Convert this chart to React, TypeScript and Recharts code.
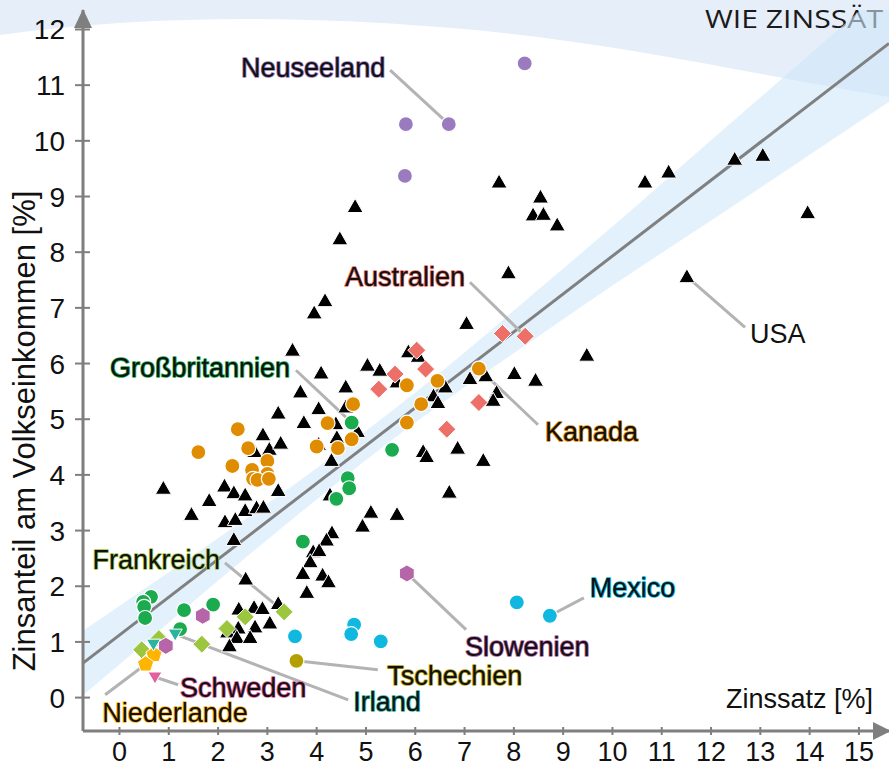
import React from "react";
import {
  ComposedChart,
  XAxis,
  YAxis,
  Scatter,
  Line,
  Area,
  ReferenceLine,
  ReferenceDot,
} from "recharts";

// tick labels
const xTicks = [0, 1, 2, 3, 4, 5, 6, 7, 8, 9, 10, 11, 12, 13, 14, 15];
const yTicks = [0, 1, 2, 3, 4, 5, 6, 7, 8, 9, 10, 11, 12];

// countries not highlighted (black triangles)
const others = [
  { x: 4.78, y: 8.82 }, { x: 4.47, y: 8.24 }, { x: 7.7, y: 9.26 }, { x: 8.54, y: 8.99 },
  { x: 8.39, y: 8.67 }, { x: 8.6, y: 8.68 }, { x: 8.88, y: 8.49 }, { x: 10.66, y: 9.26 },
  { x: 11.14, y: 9.44 }, { x: 12.48, y: 9.67 }, { x: 13.05, y: 9.74 }, { x: 13.96, y: 8.71 },
  { x: 7.89, y: 7.63 }, { x: 4.17, y: 7.13 }, { x: 3.95, y: 6.91 }, { x: 7.04, y: 6.72 },
  { x: 9.48, y: 6.15 }, { x: 3.51, y: 6.24 }, { x: 4.09, y: 5.83 }, { x: 5.03, y: 5.97 },
  { x: 5.28, y: 5.88 }, { x: 5.86, y: 6.21 }, { x: 6.06, y: 6.13 }, { x: 5.63, y: 5.67 },
  { x: 7.11, y: 5.73 }, { x: 7.43, y: 5.78 }, { x: 8.01, y: 5.82 }, { x: 8.44, y: 5.7 },
  { x: 6.61, y: 5.58 }, { x: 6.37, y: 5.42 }, { x: 6.46, y: 5.3 }, { x: 7.65, y: 5.48 },
  { x: 7.58, y: 5.34 }, { x: 4.59, y: 5.58 }, { x: 3.67, y: 5.49 }, { x: 4.04, y: 5.19 },
  { x: 4.59, y: 5.22 }, { x: 3.22, y: 5.11 }, { x: 3.74, y: 4.94 }, { x: 4.39, y: 4.92 },
  { x: 4.83, y: 4.78 }, { x: 4.41, y: 4.67 }, { x: 4.04, y: 4.55 }, { x: 2.91, y: 4.72 },
  { x: 3.04, y: 4.46 }, { x: 3.27, y: 4.57 }, { x: 2.74, y: 4.42 }, { x: 4.3, y: 4.26 },
  { x: 6.16, y: 4.42 }, { x: 6.23, y: 4.33 }, { x: 6.86, y: 4.48 }, { x: 7.38, y: 4.26 },
  { x: 6.69, y: 3.69 }, { x: 0.89, y: 3.76 }, { x: 2.13, y: 3.8 }, { x: 1.82, y: 3.54 },
  { x: 2.32, y: 3.68 }, { x: 2.55, y: 3.64 }, { x: 3.22, y: 3.72 }, { x: 4.27, y: 3.64 },
  { x: 1.46, y: 3.29 }, { x: 2.55, y: 3.36 }, { x: 2.78, y: 3.41 }, { x: 2.92, y: 3.42 },
  { x: 2.14, y: 3.16 }, { x: 2.35, y: 3.2 }, { x: 2.32, y: 2.84 }, { x: 4.93, y: 3.08 },
  { x: 5.1, y: 3.33 }, { x: 5.63, y: 3.29 }, { x: 4.31, y: 2.96 }, { x: 4.2, y: 2.83 },
  { x: 3.93, y: 2.62 }, { x: 4.05, y: 2.64 }, { x: 3.87, y: 2.44 }, { x: 3.72, y: 2.23 },
  { x: 4.12, y: 2.2 }, { x: 4.24, y: 2.08 }, { x: 3.8, y: 1.89 }, { x: 2.56, y: 2.13 },
  { x: 2.42, y: 1.59 }, { x: 2.73, y: 1.62 }, { x: 2.9, y: 1.6 }, { x: 3.22, y: 1.69 },
  { x: 3.05, y: 1.34 }, { x: 2.75, y: 1.27 }, { x: 2.41, y: 1.25 }, { x: 2.19, y: 1.18 },
  { x: 2.38, y: 1.08 }, { x: 2.65, y: 1.08 }, { x: 2.23, y: 0.93 },
];
const usa = [{ x: 11.51, y: 7.56 }];
const neuseeland = [
  { x: 5.81, y: 10.3 }, { x: 6.68, y: 10.3 }, { x: 5.79, y: 9.37 }, { x: 8.22, y: 11.39 },
];
const australien = [
  { x: 7.77, y: 6.54 }, { x: 8.23, y: 6.49 }, { x: 6.03, y: 6.24 }, { x: 6.21, y: 5.9 },
  { x: 5.59, y: 5.81 }, { x: 5.26, y: 5.54 }, { x: 7.29, y: 5.3 }, { x: 6.64, y: 4.82 },
];
const kanada = [
  { x: 2.4, y: 4.82 }, { x: 1.6, y: 4.41 }, { x: 2.61, y: 4.48 }, { x: 2.29, y: 4.16 },
  { x: 2.69, y: 4.09 }, { x: 3.0, y: 4.25 }, { x: 3.0, y: 4.02 }, { x: 2.71, y: 3.93 },
  { x: 2.8, y: 3.91 }, { x: 3.03, y: 3.93 }, { x: 4.74, y: 5.27 }, { x: 4.22, y: 4.93 },
  { x: 4.71, y: 4.64 }, { x: 4.43, y: 4.48 }, { x: 4.0, y: 4.51 }, { x: 5.83, y: 5.61 },
  { x: 6.45, y: 5.69 }, { x: 6.12, y: 5.27 }, { x: 5.83, y: 4.94 }, { x: 7.29, y: 5.91 },
];
const grossbritannien = [
  { x: 4.71, y: 4.94 }, { x: 5.53, y: 4.45 }, { x: 4.63, y: 3.94 }, { x: 4.66, y: 3.76 },
  { x: 4.4, y: 3.57 }, { x: 3.72, y: 2.8 }, { x: 1.31, y: 1.57 }, { x: 1.9, y: 1.67 },
  { x: 1.23, y: 1.23 }, { x: 0.64, y: 1.81 }, { x: 0.48, y: 1.72 }, { x: 0.5, y: 1.63 },
  { x: 0.52, y: 1.43 },
];
const frankreich = [
  { x: 3.34, y: 1.54 }, { x: 2.55, y: 1.45 }, { x: 2.18, y: 1.24 }, { x: 1.67, y: 0.96 },
  { x: 0.8, y: 1.06 }, { x: 0.45, y: 0.86 },
];
const mexico = [
  { x: 8.06, y: 1.71 }, { x: 8.73, y: 1.47 }, { x: 4.76, y: 1.31 }, { x: 4.7, y: 1.14 },
  { x: 5.3, y: 1.01 }, { x: 3.56, y: 1.1 },
];
const slowenien = [{ x: 5.83, y: 2.23 }, { x: 1.69, y: 1.47 }, { x: 0.94, y: 0.93 }];
const tschechien = [{ x: 3.59, y: 0.66 }];
const irland = [{ x: 1.13, y: 1.14 }, { x: 0.69, y: 0.96 }];
const niederlande = [{ x: 0.7, y: 0.77 }, { x: 0.53, y: 0.6 }];
const schweden = [{ x: 0.72, y: 0.37 }];

// regression line and its confidence band
const trend = [{ x: -0.74, y: 0.62 }, { x: 15.61, y: 11.75 }];
const band = [
  { x: -0.74, band: [0.04, 1.2] }, { x: 1, band: [1.35, 2.25] }, { x: 2.5, band: [2.47, 3.17] },
  { x: 4, band: [3.56, 4.12] }, { x: 5.5, band: [4.61, 5.13] }, { x: 7, band: [5.58, 6.2] },
  { x: 8.5, band: [6.49, 7.33] }, { x: 10, band: [7.4, 8.46] }, { x: 12, band: [8.57, 10.01] },
  { x: 14, band: [9.75, 11.55] }, { x: 15.61, band: [10.7, 12.8] },
];

const FONT = "'Liberation Sans', Arial, sans-serif";
const AXIS = "#7f7f7f";

// annotations: label anchor, leader start, leader end (data units)
const notes = [
  { text: "Neuseeland", color: "#9b7bbf", at: [5.39, 11.31], anchor: "end", from: [5.49, 11.27], to: [6.68, 10.3] },
  { text: "Australien", color: "#e8736b", at: [7.01, 7.55], anchor: "end", from: [7.11, 7.46], to: [8.23, 6.49] },
  { text: "Großbritannien", color: "#1aab4f", at: [3.46, 5.92], anchor: "end", from: [3.58, 5.88], to: [4.71, 4.94] },
  { text: "Kanada", color: "#e08c00", at: [8.63, 4.77], anchor: "start", from: [8.49, 4.9], to: [7.29, 5.91] },
  { text: "USA", color: "#ffffff", at: [12.79, 6.53], anchor: "start", from: [12.69, 6.65], to: [11.51, 7.56] },
  { text: "Frankreich", color: "#9dc63f", at: [2.04, 2.47], anchor: "end", from: [2.14, 2.42], to: [3.34, 1.54] },
  { text: "Mexico", color: "#00b4dc", at: [9.54, 1.97], anchor: "start", from: [9.42, 1.79], to: [8.73, 1.47] },
  { text: "Slowenien", color: "#b565a8", at: [7.01, 0.91], anchor: "start", from: [7.03, 1.22], to: [5.83, 2.23] },
  { text: "Tschechien", color: "#b7a000", at: [5.43, 0.39], anchor: "start", from: [5.24, 0.5], to: [3.59, 0.66] },
  { text: "Irland", color: "#2ab3a0", at: [4.74, -0.08], anchor: "start", from: [4.64, -0.04], to: [1.13, 1.14] },
  { text: "Schweden", color: "#e2609e", at: [1.23, 0.17], anchor: "start", from: [1.19, 0.23], to: [0.72, 0.37] },
  { text: "Niederlande", color: "#ffb400", at: [-0.35, -0.27], anchor: "start", from: [-0.29, 0.05], to: [0.53, 0.6] },
];

const poly = (cx: number, cy: number, n: number, r: number, rot: number) =>
  Array.from({ length: n }, (_, i) => {
    const a = rot + (i * 2 * Math.PI) / n;
    return `${cx + r * Math.cos(a)},${cy + r * Math.sin(a)}`;
  }).join(" ");

const dot = (color: string) => (p: any) => (
  <circle cx={p.cx} cy={p.cy} r={7.5} fill={color} stroke="#fff" strokeWidth={1.2} />
);
const triUp = (color: string) => (p: any) => (
  <polygon
    points={`${p.cx},${p.cy - 8} ${p.cx - 8},${p.cy + 6} ${p.cx + 8},${p.cy + 6}`}
    fill={color}
    stroke="#fff"
    strokeWidth={1}
  />
);
const triDown = (color: string) => (p: any) => (
  <polygon
    points={`${p.cx},${p.cy + 7} ${p.cx - 7},${p.cy - 5} ${p.cx + 7},${p.cy - 5}`}
    fill={color}
    stroke="#fff"
    strokeWidth={1}
  />
);
const diamond = (color: string) => (p: any) => (
  <polygon points={poly(p.cx, p.cy, 4, 9, -Math.PI / 2)} fill={color} stroke="#fff" strokeWidth={1} />
);
const hexagon = (color: string) => (p: any) => (
  <polygon points={poly(p.cx, p.cy, 6, 8.5, -Math.PI / 2)} fill={color} stroke="#fff" strokeWidth={1} />
);
const pentagon = (color: string) => (p: any) => (
  <polygon points={poly(p.cx, p.cy, 5, 8.5, -Math.PI / 2)} fill={color} stroke="#fff" strokeWidth={1} />
);

const XTick = (props: any) => {
  const { x, y, payload } = props;
  return (
    <g>
      <line x1={x} x2={x} y1={y - 4} y2={y + 4} stroke={AXIS} strokeWidth={2} />
      <text x={x} y={y + 30} textAnchor="middle" fontSize={27} fill="#111" fontFamily={FONT}>
        {payload.value}
      </text>
    </g>
  );
};

const YTick = (props: any) => {
  const { x, y, payload } = props;
  return (
    <g>
      <line x1={x - 8} x2={x + 7} y1={y} y2={y} stroke={AXIS} strokeWidth={2} />
      <text x={x - 18} y={y + 10} textAnchor="end" fontSize={28} fill="#111" fontFamily={FONT}>
        {payload.value}
      </text>
    </g>
  );
};

export default function App() {
  return (
    <div style={{ position: "absolute", left: 0, top: 0, width: 889, height: 767, overflow: "hidden", background: "#fff" }}>
      <svg width={889} height={767} style={{ position: "absolute", left: 0, top: 0 }}>
        <path d="M0,0 L889,0 L889,97 C760,76 610,40 440,27 C300,16 150,14 0,35 Z" fill="#e6eefa" />
        <text x={705} y={28} fontSize={25} fill="#1a1a1a" fontFamily="'Open Sans', 'Noto Sans', sans-serif" textLength={178} lengthAdjust="spacingAndGlyphs">
          WIE ZINSSÄT
        </text>
      </svg>
      <div style={{ position: "absolute", left: 0, top: 0 }}>
        <ComposedChart width={889} height={767} margin={{ top: 10, right: 0, bottom: 0, left: 0 }}>
          <XAxis
            type="number"
            dataKey="x"
            domain={[-0.74, 15.61]}
            ticks={xTicks}
            allowDataOverflow
            height={36}
            tickSize={0}
            tickMargin={0}
            tickLine={false}
            axisLine={{ stroke: AXIS, strokeWidth: 3 }}
            tick={<XTick />}
            interval={0}
            label={() => (
              <text x={873} y={708} textAnchor="end" fontSize={27} fill="#111" fontFamily={FONT}>
                Zinssatz [%]
              </text>
            )}
          />
          <YAxis
            type="number"
            dataKey="y"
            domain={[-0.6, 12.35]}
            ticks={yTicks}
            allowDataOverflow
            width={83}
            tickSize={0}
            tickMargin={0}
            tickLine={false}
            axisLine={{ stroke: AXIS, strokeWidth: 3 }}
            tick={<YTick />}
            interval={0}
            label={() => (
              <text
                x={24}
                y={431}
                transform="rotate(-90 24 431)"
                textAnchor="middle"
                dominantBaseline="central"
                fontSize={31}
                fill="#111"
                fontFamily={FONT}
              >
                Zinsanteil am Volkseinkommen [%]
              </text>
            )}
          />
          <Area
            data={band}
            dataKey="band"
            type="monotone"
            stroke="none"
            fill="#cfe8fa"
            fillOpacity={0.6}
            isAnimationActive={false}
            activeDot={false}
          />
          <Line
            data={trend}
            dataKey="y"
            stroke="#808080"
            strokeWidth={3}
            dot={false}
            activeDot={false}
            isAnimationActive={false}
          />
          <Scatter data={others} shape={triUp("#000")} isAnimationActive={false} />
          <Scatter data={usa} shape={triUp("#000")} isAnimationActive={false} />
          <Scatter data={kanada} shape={dot("#e08c00")} isAnimationActive={false} />
          <Scatter data={australien} shape={diamond("#ec7068")} isAnimationActive={false} />
          <Scatter data={grossbritannien} shape={dot("#1aab4f")} isAnimationActive={false} />
          <Scatter data={neuseeland} shape={dot("#9b7bbf")} isAnimationActive={false} />
          <Scatter data={mexico} shape={dot("#10b8e0")} isAnimationActive={false} />
          <Scatter data={frankreich} shape={diamond("#9dc63f")} isAnimationActive={false} />
          <Scatter data={slowenien} shape={hexagon("#b565a8")} isAnimationActive={false} />
          <Scatter data={tschechien} shape={dot("#b3a000")} isAnimationActive={false} />
          <Scatter data={niederlande} shape={pentagon("#ffb400")} isAnimationActive={false} />
          <Scatter data={irland} shape={triDown("#2ab3a0")} isAnimationActive={false} />
          <Scatter data={schweden} shape={triDown("#e2609e")} isAnimationActive={false} />
          {notes.map((n) => (
            <ReferenceLine
              key={"l" + n.text}
              segment={[
                { x: n.from[0], y: n.from[1] },
                { x: n.to[0], y: n.to[1] },
              ]}
              stroke="#b3b3b3"
              strokeWidth={3}
              ifOverflow="visible"
            />
          ))}
          {notes.map((n) => (
            <ReferenceDot
              key={"t" + n.text}
              x={n.at[0]}
              y={n.at[1]}
              ifOverflow="visible"
              shape={(p: any) => (
                <text
                  x={p.cx}
                  y={p.cy}
                  textAnchor={n.anchor}
                  dominantBaseline="central"
                  fontSize={27}
                  fill="#111"
                  stroke={n.color}
                  strokeWidth={1.6}
                  strokeLinejoin="round"
                  paintOrder="stroke"
                  fontFamily={FONT}
                >
                  {n.text}
                </text>
              )}
            />
          ))}
          <ReferenceDot
            x={-0.74}
            y={12.35}
            ifOverflow="visible"
            shape={(p: any) => (
              <polygon points={`${p.cx},${p.cy - 1} ${p.cx - 9},${p.cy + 18} ${p.cx + 9},${p.cy + 18}`} fill={AXIS} />
            )}
          />
          <ReferenceDot
            x={15.61}
            y={-0.6}
            ifOverflow="visible"
            shape={(p: any) => (
              <polygon points={`${p.cx + 2},${p.cy} ${p.cx - 16},${p.cy - 9} ${p.cx - 16},${p.cy + 9}`} fill={AXIS} />
            )}
          />
        </ComposedChart>
      </div>
    </div>
  );
}
